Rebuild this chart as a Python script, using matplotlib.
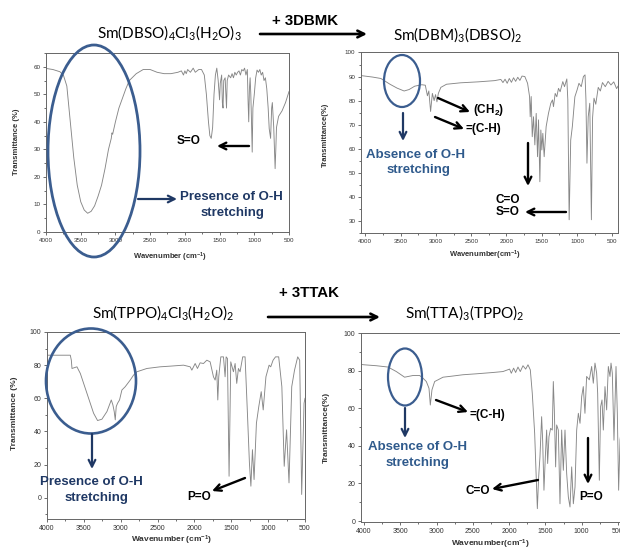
import matplotlib
matplotlib.use('Agg')
import matplotlib.pyplot as plt
from matplotlib.patches import Ellipse
from matplotlib.ticker import MultipleLocator

plt.rcParams['font.family'] = ['Liberation Sans', 'DejaVu Sans']
plt.rcParams['mathtext.default'] = 'regular'

# ---- spectra (wavenumber cm-1, transmittance %) ----
dbso_wn = [4000, 3900, 3800, 3750, 3700, 3650, 3600, 3550, 3500, 3450, 3400, 3350, 3300, 3250,
           3200, 3150, 3100, 3060, 3050, 3040, 3000, 2950, 2900, 2850, 2800, 2700, 2600, 2500,
           2400, 2300, 2200, 2100, 2050, 2020, 2000, 1980, 1960, 1920, 1880, 1850, 1800, 1760,
           1720, 1690, 1660, 1640, 1620, 1600, 1580, 1560, 1540, 1520, 1500, 1490, 1470, 1460,
           1450, 1440, 1420, 1400, 1390, 1370, 1340, 1320, 1300, 1280, 1260, 1240, 1220, 1200,
           1180, 1160, 1140, 1120, 1100, 1090, 1080, 1070, 1060, 1050, 1040, 1030, 1020, 1000,
           980, 960, 940, 920, 900, 880, 860, 840, 820, 800, 785, 765, 750, 740, 720, 700, 690,
           680, 650, 600, 550, 500]
dbso_t = [59.4, 59.0, 58.2, 57.0, 53.0, 40.0, 27.0, 17.0, 11.0, 8.0, 6.8, 7.5, 9.5, 13.0,
          17.0, 23.0, 30.0, 34.0, 36.0, 35.5, 40.0, 45.0, 48.5, 52.0, 55.0, 57.5, 59.0, 59.0,
          58.0, 57.5, 57.5, 58.0, 58.5, 57.0, 58.5, 57.5, 59.0, 58.0, 59.5, 58.0, 59.0, 59.0,
          57.0, 50.0, 40.0, 35.0, 34.0, 38.0, 50.0, 57.0, 59.5, 55.0, 48.0, 54.0, 57.0, 47.0,
          45.0, 55.0, 56.0, 45.0, 55.0, 57.0, 56.0, 57.5, 56.0, 58.0, 57.0, 58.0, 58.5, 57.0,
          59.0, 58.5, 59.5, 57.0, 59.0, 48.0, 40.0, 52.0, 56.0, 50.0, 40.0, 29.0, 45.0, 50.0,
          56.0, 58.8, 58.0, 59.0, 57.0, 58.0, 55.0, 56.0, 52.0, 45.0, 37.5, 34.0, 45.0, 47.0,
          38.0, 23.0, 30.0, 38.0, 42.0, 44.0, 47.0, 51.0]

dbm_wn = [4061, 3900, 3780, 3650, 3550, 3450, 3380, 3300, 3200, 3150, 3120, 3100, 3075, 3050,
          3025, 3005, 2985, 2965, 2930, 2850, 2650, 2400, 2170, 2080, 2050, 2020, 1990, 1960,
          1930, 1900, 1870, 1840, 1810, 1780, 1740, 1701, 1673, 1664, 1650, 1635, 1617, 1598,
          1579, 1560, 1546, 1527, 1513, 1499, 1485, 1466, 1438, 1405, 1372, 1348, 1334, 1310,
          1287, 1263, 1240, 1202, 1178, 1145, 1131, 1112, 1090, 1067, 1031, 1000, 973, 941,
          910, 887, 874, 860, 842, 820, 797, 780, 760, 735, 700, 670, 640, 600, 560, 520, 480,
          440, 420]
dbm_t = [90.4, 89.8, 89.2, 86.8, 85.2, 84.0, 84.6, 86.0, 86.6, 86.4, 82.0, 84.0, 75.5, 83.0,
         80.0, 82.5, 79.5, 83.0, 85.5, 86.8, 87.4, 87.8, 88.3, 88.8, 87.5, 88.9, 87.2, 89.2,
         87.6, 89.5, 88.0, 89.7, 88.4, 90.2, 90.0, 87.2, 81.7, 73.3, 81.7, 65.0, 73.3, 61.6,
         74.7, 56.7, 72.0, 46.3, 67.8, 59.5, 66.4, 56.7, 69.2, 74.7, 78.9, 80.3, 77.5, 83.0,
         81.6, 85.1, 83.7, 87.9, 85.8, 89.0, 80.3, 30.5, 63.6, 69.2, 81.6, 84.4, 87.2, 85.8,
         90.0, 90.7, 80.3, 54.0, 73.3, 78.9, 30.5, 73.0, 81.0, 78.5, 85.5, 84.0, 87.5, 85.8,
         88.0, 86.5, 87.8, 85.0, 86.0]

tppo_wn = [4000, 3684, 3670, 3661, 3594, 3548, 3458, 3368, 3314, 3255, 3187, 3128, 3106, 3088,
           3074, 3061, 3043, 3016, 2984, 2939, 2871, 2826, 2781, 2645, 2465, 2329, 2148, 2058,
           2035, 1990, 1959, 1923, 1877, 1832, 1787, 1742, 1719, 1697, 1683, 1670, 1642, 1606,
           1584, 1570, 1552, 1530, 1507, 1471, 1448, 1426, 1403, 1381, 1345, 1313, 1281, 1254,
           1234, 1213, 1191, 1159, 1127, 1094, 1067, 1030, 987, 965, 933, 900, 857, 814, 782,
           750, 717, 680, 642, 599, 572, 545, 513, 500]
tppo_t = [86, 86, 83, 78, 79, 75, 63, 51, 46.6, 47.4, 52, 59, 56, 52,
          47, 55, 57, 59, 65, 67, 71, 74, 76, 78, 79, 79.4, 80, 79,
          77, 81, 78, 81.4, 81, 83, 82, 73, 71, 77, 59, 73, 85, 85,
          73, 85, 84, 13, 82, 76, 81, 69, 78, 76, 85, 85, 51, 21,
          7, 29, 11, 45, 55, 64, 53, 73, 80, 79, 83, 85, 85, 67, 19,
          41, 9, 67, 77, 85, 83, 2, 57, 60]

tta_wn = [4041, 4000, 3830, 3669, 3554, 3440, 3325, 3233, 3187, 3141, 3104, 3086, 3063, 3026,
          2980, 2911, 2800, 2636, 2452, 2222, 2085, 1993, 1970, 1938, 1910, 1878, 1846, 1809,
          1772, 1740, 1708, 1681, 1648, 1630, 1611, 1593, 1575, 1552, 1538, 1520, 1501, 1483,
          1469, 1451, 1428, 1405, 1391, 1377, 1359, 1345, 1322, 1299, 1276, 1253, 1230, 1207,
          1184, 1161, 1138, 1115, 1092, 1069, 1046, 1023, 1000, 978, 955, 932, 895, 863, 840,
          817, 794, 780, 757, 739, 720, 702, 679, 656, 633, 610, 596, 578, 555, 527, 509, 491,
          472, 417]
tta_t = [83.3, 83.1, 82.6, 81.9, 79.5, 76.5, 77.4, 77.4, 76.0, 74.2, 70.6, 61.7, 69.8, 74.2,
         75.1, 76.5, 77.0, 77.8, 78.3, 79.0, 79.5, 80.8, 78.6, 81.3, 79.0, 81.9, 79.5, 82.6,
         80.8, 83.1, 80.4, 68.0, 46.6, 27.0, 6.6, 23.5, 34.2, 55.5, 43.0, 16.4, 34.2, 48.4,
         30.6, 44.8, 49.3, 48.4, 74.2, 59.1, 28.8, 51.1, 48.4, 9.2, 48.4, 27.0, 48.4, 25.3,
         12.8, 7.5, 28.8, 9.2, 18.1, 48.4, 57.3, 52.0, 66.2, 71.5, 57.3, 76.9, 75.1, 82.2, 73.3,
         84.0, 78.7, 68.0, 21.7, 60.9, 64.4, 48.4, 71.5, 59.1, 82.2, 76.9, 84.0, 78.7, 43.0,
         82.2, 57.3, 16.4, 43.0, 60.0]

W, H = 620, 551
fig = plt.figure(figsize=(W / 100, H / 100), dpi=100)


def box(l, r, t, b):
    return [l / W, 1 - b / H, (r - l) / W, (b - t) / H]


def panel(rect, wn, tr, xlim, ylim, ystep, fs):
    ax = fig.add_axes(box(*rect))
    ax.plot(wn, tr, color='#878787', lw=0.65)
    ax.set_xlim(xlim)
    ax.set_ylim(ylim)
    ax.xaxis.set_major_locator(MultipleLocator(500))
    ax.xaxis.set_minor_locator(MultipleLocator(250))
    ax.yaxis.set_major_locator(MultipleLocator(ystep))
    ax.yaxis.set_minor_locator(MultipleLocator(ystep / 2))
    ax.tick_params(which='both', direction='out', width=0.6, colors='#555555',
                   labelsize=fs, labelcolor='#333333', pad=1.5)
    ax.tick_params(which='major', length=2.5)
    ax.tick_params(which='minor', length=1.5)
    for s in ax.spines.values():
        s.set_color('#666666')
        s.set_linewidth(0.7)
    return ax


panel((46, 289, 53, 232), dbso_wn, dbso_t, (4000, 500), (0, 65), 10, 4.5)
panel((361, 618, 52, 233), dbm_wn, dbm_t, (4061, 420), (25, 100.2), 10, 4.5)
panel((47, 305, 332, 519), tppo_wn, tppo_t, (4000, 500), (-12.8, 100), 20, 5)
panel((361, 624, 333, 522), tta_wn, tta_t, (4041, 417), (-0.5, 100), 20, 5)

# ---- overlay in pixel coordinates for titles, arrows, circles ----
ov = fig.add_axes([0, 0, 1, 1], zorder=10)
ov.set_xlim(0, W)
ov.set_ylim(H, 0)
ov.axis('off')
ov.patch.set_alpha(0)

navy = '#1f3864'
blue = '#2f5a8c'
ring = '#3b5d8f'


def arrow(x0, y0, x1, y1, color='black', lw=1.7, head=12):
    ov.annotate('', xy=(x1, y1), xytext=(x0, y0),
                arrowprops=dict(arrowstyle='->', color=color, lw=lw,
                                mutation_scale=head, shrinkA=0, shrinkB=0))


def label(x, y, s, size=9.5, color='black', weight='bold', ha='center', family=None, rot=0):
    ov.text(x, y, s, fontsize=size, color=color, fontweight=weight, ha=ha, va='center',
            family=family, rotation=rot)


calibri = ['Lato', 'DejaVu Sans']
label(169, 33, 'Sm(DBSO)$_4$Cl$_3$(H$_2$O)$_3$', 11, weight='normal', family=calibri)
label(458, 35, 'Sm(DBM)$_3$(DBSO)$_2$', 11, weight='normal', family=calibri)
label(163, 313, 'Sm(TPPO)$_4$Cl$_3$(H$_2$O)$_2$', 11, weight='normal', family=calibri)
label(465, 313, 'Sm(TTA)$_3$(TPPO)$_2$', 11, weight='normal', family=calibri)

label(305, 21, '+ 3DBMK', 10.8)
arrow(260, 34, 367, 34, lw=1.9)
label(309, 293, '+ 3TTAK', 10.8)
arrow(268, 317, 380, 317, lw=1.9)

# axis titles
for x, y, s, f in [(17, 142, 'Transmittance (%)', 5.5), (325, 135, 'Transmittance(%)', 5.5),
                   (15, 413, 'Transmittance (%)', 6), (326, 427, 'Transmittance(%)', 6)]:
    label(x, y, s, f, color='#333333', rot=90)
for x, y, s, f in [(170, 257, 'Wavenumber (cm$^{-1}$)', 5.5), (485, 255, 'Wavenumber(cm$^{-1}$)', 5.5),
                   (172, 540, 'Wavenumber (cm$^{-1}$)', 6), (490, 544, 'Wavenumber(cm$^{-1}$)', 6)]:
    label(x, y, s, f, color='#333333')

# panel 1
ov.add_patch(Ellipse((94, 151), 92, 212, fill=False, ec=ring, lw=2))
arrow(138, 199, 177, 199, color=navy, lw=1.6)
label(231, 197, 'Presence of O-H', 9.5, color=navy)
label(232, 213, 'stretching', 9.5, color=navy)
label(189, 141, 'S=O', 8.5)
arrow(249, 146, 217, 146)

# panel 2
ov.add_patch(Ellipse((402, 81), 36, 52, fill=False, ec=ring, lw=1.6))
arrow(403, 113, 403, 141, color=navy, lw=1.6)
label(415, 155, 'Absence of O-H', 9.5, color=blue)
label(418, 170, 'stretching', 9.5, color=blue)
arrow(438, 98, 470, 112)
label(473, 110, '(CH$_2$)', 8.5, ha='left')
arrow(435, 117, 464, 129)
label(466, 129, '=(C-H)', 8.5, ha='left')
arrow(528, 143, 528, 186)
label(508, 200, 'C=O', 8.5)
label(508, 212, 'S=O', 8.5)
arrow(566, 212, 525, 212)

# panel 3
ov.add_patch(Ellipse((91, 381), 90, 105, fill=False, ec=ring, lw=1.9))
arrow(92, 434, 92, 469, color=navy, lw=1.6)
label(91, 482, 'Presence of O-H', 9.5, color=navy)
label(96, 498, 'stretching', 9.5, color=navy)
label(199, 497, 'P=O', 8.5)
arrow(245, 478, 212, 491)

# panel 4
ov.add_patch(Ellipse((405, 377), 34, 57, fill=False, ec=ring, lw=1.6))
arrow(405, 408, 405, 438, color=navy, lw=1.6)
label(418, 447, 'Absence of O-H', 9.5, color=blue)
label(417, 463, 'stretching', 9.5, color=blue)
arrow(436, 400, 468, 412)
label(470, 415, '=(C-H)', 8.5, ha='left')
arrow(538, 480, 492, 489)
label(478, 491, 'C=O', 8.5)
arrow(588, 438, 588, 484)
label(591, 497, 'P=O', 8.5)

fig.savefig('out.png', dpi=100)
